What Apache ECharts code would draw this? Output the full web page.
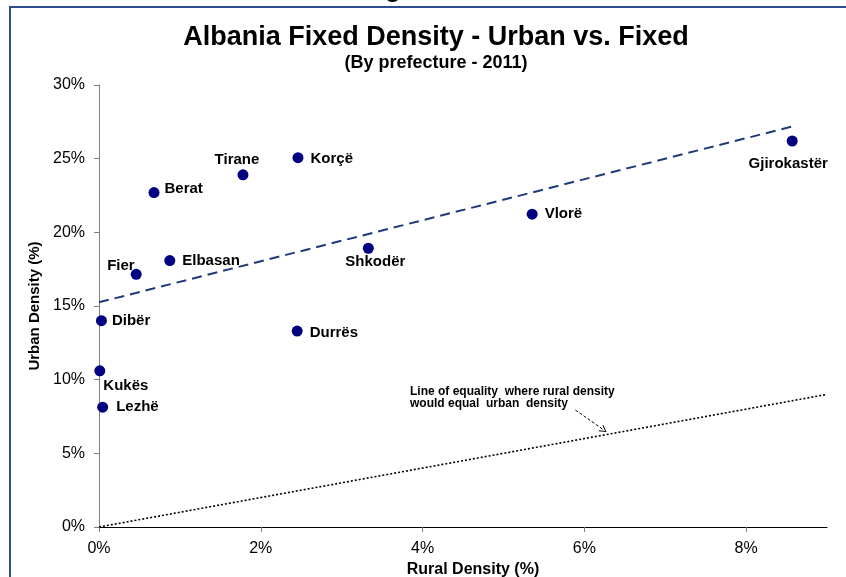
<!DOCTYPE html>
<html><head><meta charset="utf-8">
<script src="https://cdn.jsdelivr.net/npm/echarts@6/dist/echarts.min.js"></script>
<style>html,body{margin:0;padding:0;background:#fff}#c{width:846px;height:577px}</style>
</head><body><div id="c"></div>
<script>
// ---- data ----
const prefectures = ['Berat','Tirane','Korçë','Fier','Elbasan','Dibër','Durrës','Kukës','Lezhë','Shkodër','Vlorë','Gjirokastër'];
const ruralDensity = [0.68, 1.78, 2.46, 0.46, 0.875, 0.03, 2.45, 0.01, 0.045, 3.33, 5.355, 8.57];
const urbanDensity = [22.7, 23.9, 25.07, 17.15, 18.08, 14.0, 13.3, 10.6, 8.13, 18.92, 21.23, 26.2];
const xTickValues = [0, 2, 4, 6, 8];
const yTickValues = [0, 5, 10, 15, 20, 25, 30];
const xMax = 9;
const yMax = 30;

// ---- label placement (style only) ----
const labelStyle = {
  'Berat': {position:'right', offset:[0,-4]},
  'Tirane': {position:'top', offset:[-6,3]},
  'Korçë': {position:'right', offset:[2,1]},
  'Fier': {position:'left', offset:[9,-8]},
  'Elbasan': {position:'right', offset:[2,0]},
  'Dibër': {position:'right', offset:[0,0]},
  'Durrës': {position:'right', offset:[2,2]},
  'Kukës': {position:'bottom', offset:[26,-3]},
  'Lezhë': {position:'right', offset:[3,0]},
  'Shkodër': {position:'bottom', offset:[7,-4]},
  'Vlorë': {position:'right', offset:[2,0]},
  'Gjirokastër': {position:'bottom', offset:[-4,5]}
};

// ---- linear trend (least squares) ----
const n = ruralDensity.length;
const mx = ruralDensity.reduce((a,b)=>a+b,0)/n;
const my = urbanDensity.reduce((a,b)=>a+b,0)/n;
let sxy = 0, sxx = 0;
for (let i=0;i<n;i++){ sxy += (ruralDensity[i]-mx)*(urbanDensity[i]-my); sxx += (ruralDensity[i]-mx)**2; }
const slope = sxy/sxx, icpt = my - slope*mx;
const xMaxData = Math.max(...ruralDensity);
const trendData = [[0, icpt],[xMaxData, icpt + slope*xMaxData]];
const equalityData = [[0,0],[xMax,xMax]];

const FONT = "'Liberation Sans', Arial, sans-serif";
const points = prefectures.map((p,i)=>({
  name: p,
  value: [ruralDensity[i], urbanDensity[i]],
  label: Object.assign({show:true, formatter:p, distance:5, color:'#000'}, labelStyle[p])
}));

const chart = echarts.init(document.getElementById('c'), null, {renderer:'canvas'});
chart.setOption({
  animation: false,
  backgroundColor: '#fff',
  textStyle: {fontFamily: FONT},
  grid: {left: 99, right: 19, top: 85, bottom: 50, containLabel:false, outerBoundsMode:'none'},
  graphic: [
    {type:'text', silent:true, x:393, y:-11, style:{text:'g', font:"bold 27px "+FONT, fill:'#000', align:'center', verticalAlign:'middle'}},
    {type:'polyline', silent:true, shape:{points:[[10,577],[10,7],[846,7]]}, style:{stroke:'#2E4D8F', lineWidth:2, fill:null}},
    {type:'text', silent:true, x:436, y:38, style:{text:'Albania Fixed Density - Urban vs. Fixed', font:"bold 27px "+FONT, fill:'#000', align:'center', verticalAlign:'middle'}},
    {type:'text', silent:true, x:436, y:63, style:{text:'(By prefecture - 2011)', font:"bold 18px "+FONT, fill:'#000', align:'center', verticalAlign:'middle'}},
    {type:'text', silent:true, x:410, y:385, style:{text:'Line of equality  where rural density\nwould equal  urban  density', font:"bold 12px "+FONT, fill:'#000', align:'left', verticalAlign:'top', lineHeight:12.5}}
  ],
  xAxis: {
    type:'value', min:0, max:xMax, interval:2,
    name:'Rural Density (%)', nameLocation:'middle', nameGap:33,
    nameTextStyle:{fontSize:16, fontWeight:'bold', color:'#000', padding:[0,0,0,20], fontFamily:FONT},
    axisLine:{show:true, onZero:false, lineStyle:{color:'#000', width:1}},
    axisTick:{show:true, inside:false, length:5, lineStyle:{color:'#808080'}, customValues:xTickValues},
    axisLabel:{fontSize:16, color:'#000', margin:14, formatter:v=>v+'%', customValues:xTickValues, fontFamily:FONT},
    splitLine:{show:false}
  },
  yAxis: {
    type:'value', min:0, max:yMax, interval:5,
    name:'Urban Density (%)', nameLocation:'middle', nameGap:53,
    nameTextStyle:{fontSize:15, fontWeight:'bold', color:'#000', fontFamily:FONT},
    axisLine:{show:true, onZero:false, lineStyle:{color:'#808080', width:1}},
    axisTick:{show:true, inside:false, length:5, lineStyle:{color:'#808080'}},
    axisLabel:{fontSize:16, color:'#000', margin:14, formatter:v=>v+'%', fontFamily:FONT},
    splitLine:{show:false}
  },
  series: [
    {
      type:'line', name:'Equality', data:equalityData, showSymbol:false, silent:true,
      lineStyle:{color:'#000', width:1.6, type:[2,2]},
      markLine:{
        silent:true, symbol:['none','path://M5,0 L10,9 L8.6,9 L5,2.4 L1.4,9 L0,9 Z'], symbolSize:[8,7],
        label:{show:false},
        lineStyle:{color:'#000', width:1, type:[3,2]},
        data:[[{coord:[5.89,7.94]},{coord:[6.24,6.585]}]]
      }
    },
    {
      type:'line', name:'Trend', data:trendData, showSymbol:false, silent:true,
      lineStyle:{color:'#1F3A78', width:2, type:[10,6]}
    },
    {
      type:'scatter', name:'Prefectures', data:points, symbolSize:11,
      itemStyle:{color:'#000080', opacity:1},
      label:{fontSize:15, fontWeight:'bold', color:'#000', fontFamily:FONT}
    }
  ]
});
</script></body></html>
